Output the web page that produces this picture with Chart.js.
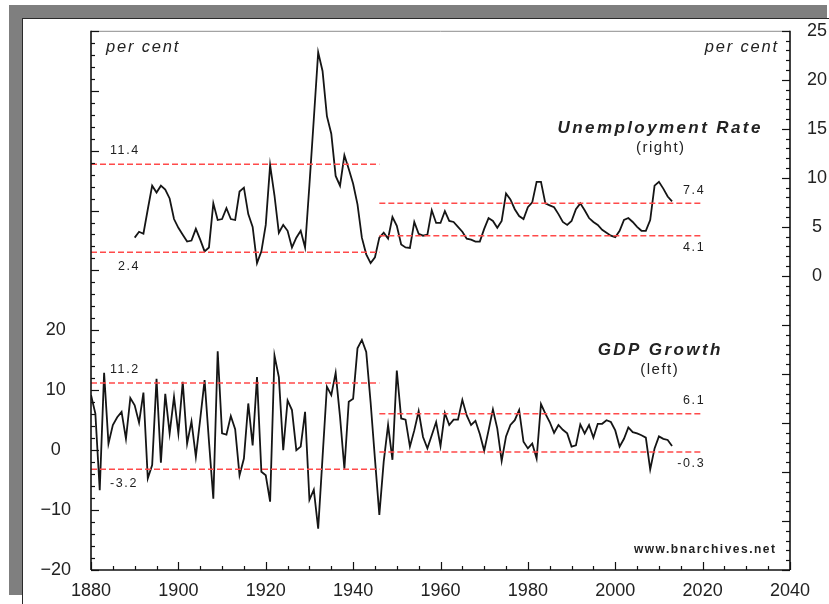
<!DOCTYPE html>
<html>
<head>
<meta charset="utf-8">
<script src="https://cdn.jsdelivr.net/npm/chart.js@4"></script>
<style>
html,body{margin:0;padding:0;background:#fff;}
#wrap{position:relative;width:829px;height:604px;overflow:hidden;background:#fff;}
#gray{position:absolute;left:9px;top:5px;width:818px;height:590px;background:#7f7f7f;}
#panel{position:absolute;left:22px;top:18px;width:807px;height:586px;background:#fff;border-left:1px solid #2a2a2a;border-top:1px solid #2a2a2a;}
#c{position:absolute;left:0;top:0;}
</style>
</head>
<body>
<div id="wrap">
  <div id="gray"></div>
  <div id="panel"></div>
  <canvas id="c" width="829" height="604"></canvas>
</div>
<script>
// ---------------- DATA ----------------
const unempStartYear = 1890;
const unempRate = [
  3.9, 4.5, 4.3, 6.8, 9.2, 8.5, 9.2, 8.8, 7.9, 5.8,        // 1890-1899
  4.9, 4.2, 3.5, 3.6, 4.8, 3.7, 2.5, 2.9, 7.4, 5.7,        // 1900-1909
  5.8, 6.9, 5.8, 5.7, 8.6, 9.0, 6.3, 5.0, 1.3, 2.5,        // 1910-1919
  5.2, 11.3, 8.2, 4.4, 5.2, 4.6, 2.9, 3.9, 4.6, 2.9,       // 1920-1929
  9.3, 16.0, 22.8, 20.9, 16.3, 14.5, 10.2, 9.2, 12.3, 10.9,// 1930-1939
  9.4, 7.3, 3.9, 2.2, 1.3, 1.9, 3.9, 4.4, 3.8, 6.0,        // 1940-1949
  5.1, 3.2, 2.9, 2.85, 5.5, 4.3, 4.1, 4.2, 6.7, 5.4,       // 1950-1959
  5.4, 6.6, 5.6, 5.5, 5.0, 4.5, 3.8, 3.7, 3.5, 3.5,        // 1960-1969
  4.8, 5.9, 5.6, 4.9, 5.6, 8.4, 7.8, 6.8, 6.1, 5.8,        // 1970-1979
  7.0, 7.5, 9.6, 9.6, 7.4, 7.2, 7.0, 6.3, 5.5, 5.2,        // 1980-1989
  5.6, 6.8, 7.4, 6.7, 5.9, 5.5, 5.2, 4.7, 4.4, 4.1,        // 1990-1999
  3.95, 4.6, 5.7, 5.9, 5.5, 5.0, 4.6, 4.6, 5.7, 9.2,       // 2000-2009
  9.6, 8.9, 8.1, 7.6                                       // 2010-2013
];

const gdpStartYear = 1880;
const gdpGrowth = [
  9.2, 6.1, -6.7, 12.9, 1.1, 4.2, 5.5, 6.4, 1.9, 8.7,      // 1880-1889
  7.5, 4.6, 9.6, -4.7, -2.5, 11.9, -2.1, 9.4, 2.8, 8.9,    // 1890-1899
  2.8, 11.4, 1.1, 4.8, -1.1, 5.2, 11.7, 1.5, -8.1, 16.5,   // 1900-1909
  2.8, 2.6, 5.7, 3.5, -4.2, -1.4, 7.8, 0.8, 12.2, -3.6,    // 1910-1919
  -4.2, -8.6, 15.8, 12.2, 0.0, 8.3, 6.7, 0.0, 0.6, 6.4,    // 1920-1929
  -8.3, -6.6, -13.1, -1.2, 10.6, 9.2, 12.9, 5.6, -3.1, 8.1,// 1930-1939
  8.6, 17.0, 18.4, 16.4, 8.0, -1.5, -10.8, -1.9, 4.2, -1.6,// 1940-1949
  13.3, 5.3, 5.1, 0.6, 3.3, 6.5, 2.2, 0.3, 2.5, 4.7,       // 1950-1959
  0.7, 6.2, 4.2, 5.1, 5.1, 8.4, 5.8, 4.2, 4.9, 2.7,        // 1960-1969
  -0.1, 3.3, 6.8, 3.6, -1.8, 2.3, 4.2, 5.0, 6.7, 1.4,      // 1970-1979
  0.3, 1.1, -1.4, 7.7, 6.1, 4.7, 2.9, 4.2, 3.4, 2.8,       // 1980-1989
  0.6, 0.8, 4.3, 2.8, 4.2, 2.1, 4.4, 4.4, 5.0, 4.7,        // 1990-1999
  3.3, 0.6, 1.9, 3.8, 3.0, 2.8, 2.5, 2.1, -3.2, 0.3,       // 2000-2009
  2.3, 1.9, 1.7, 0.7                                       // 2010-2013
];

// period averages (+/- one standard deviation bands)
const periodBreaks = [1880, 1946, 2020];
const unempBands = [[11.4, 2.4], [7.4, 4.1]];
const gdpBands = [[11.2, -3.2], [6.1, -0.3]];
const unempBandLabels = [['11.4', '2.4'], ['7.4', '4.1']];
const gdpBandLabels = [['11.2', '-3.2'], ['6.1', '-0.3']];

// axis ticks
const xTickYears = [1880, 1900, 1920, 1940, 1960, 1980, 2000, 2020, 2040];
const leftTickLabels = [-20, -10, 0, 10, 20];
const rightTickLabels = [0, 5, 10, 15, 20, 25];

// ---------------- BUILD ----------------
const FONT = "'Liberation Sans', Arial, Helvetica, sans-serif";
Chart.defaults.font.family = FONT;

const toPts = (start, arr) => arr.map((v, i) => ({x: start + i, y: v}));

const RED = '#ff4a4a';
const bandSets = [];
[[unempBands, 'yR'], [gdpBands, 'yL']].forEach(([bands, axis]) => {
  bands.forEach((pair, p) => {
    pair.forEach(level => {
      bandSets.push({
        data: [{x: periodBreaks[p], y: level}, {x: periodBreaks[p + 1], y: level}],
        yAxisID: axis, borderColor: RED, borderWidth: 1.5, borderDash: [6, 3],
        pointRadius: 0, fill: false, tension: 0
      });
    });
  });
});

function drawText(ctx, s, x, y, font, align, spacing, color) {
  ctx.font = font;
  ctx.fillStyle = color || '#222';
  ctx.textBaseline = 'middle';
  ctx.letterSpacing = (spacing || 0) + 'px';
  let w = ctx.measureText(s).width;
  ctx.textAlign = 'left';
  let sx = x;
  if (align === 'center') sx = x - (w - (spacing || 0)) / 2;
  else if (align === 'right') sx = x - (w - (spacing || 0));
  ctx.fillText(s, sx, y);
  ctx.letterSpacing = '0px';
}

const decor = {
  id: 'decor',
  afterDatasetsDraw(chart) {
    const {ctx, chartArea: a, scales} = chart;
    const xs = scales.x, yL = scales.yL, yR = scales.yR;
    ctx.save();
    const seg = (x1, y1, x2, y2) => { ctx.beginPath(); ctx.moveTo(x1, y1); ctx.lineTo(x2, y2); ctx.stroke(); };
    // top border (grey)
    ctx.strokeStyle = '#8c8c8c'; ctx.lineWidth = 1;
    seg(a.left, a.top + 0.5, a.right, a.top + 0.5);
    // axes
    ctx.strokeStyle = '#111'; ctx.lineWidth = 1.6;
    seg(a.left, a.top, a.left, a.bottom);
    seg(a.left, a.bottom, a.right, a.bottom);
    seg(a.right, a.top, a.right, a.bottom);
    // inward ticks
    ctx.lineWidth = 1.2;
    for (let v = yL.min; v <= yL.max; v += 2) {
      const y = Math.round(yL.getPixelForValue(v)) + 0.5;
      seg(a.left, y, a.left + (v % 10 === 0 ? 8 : 4), y);
    }
    for (let v = yR.min; v <= yR.max; v += 1) {
      const y = Math.round(yR.getPixelForValue(v)) + 0.5;
      seg(a.right, y, a.right - (v % 5 === 0 ? 8 : 4), y);
    }
    for (let v = xs.min; v <= xs.max; v += 5) {
      const x = Math.round(xs.getPixelForValue(v)) + 0.5;
      seg(x, a.bottom, x, a.bottom - (v % 20 === 0 ? 8 : 4));
    }
    // band value labels
    const lf = "12.5px " + FONT;
    const placeBand = (labels, bands, yScale) => {
      labels.forEach((pair, p) => {
        pair.forEach((s, k) => {
          const yv = yScale.getPixelForValue(bands[p][k]);
          const above = k === 0;
          if (p === 0) {
            const x = xs.getPixelForValue(periodBreaks[0]) + (s.length > 3 ? 19 : 27);
            drawText(ctx, s, x, yv + (above ? -14 : 14), lf, 'left', 1.6, '#1e1e1e');
          } else {
            const x = xs.getPixelForValue(periodBreaks[2]) + 1;
            drawText(ctx, s, x, yv + (above ? -13 : 12), lf, 'right', 1.6, '#1e1e1e');
          }
        });
      });
    };
    placeBand(unempBandLabels, unempBands, yR);
    placeBand(gdpBandLabels, gdpBands, yL);
    // titles
    drawText(ctx, 'per cent', a.left + 15, 47, "italic 16.5px " + FONT, 'left', 1.8, '#222');
    drawText(ctx, 'per cent', a.right - 13, 47, "italic 16.5px " + FONT, 'right', 1.8, '#222');
    drawText(ctx, 'Unemployment Rate', 659, 128, "italic bold 17px " + FONT, 'center', 2.4, '#222');
    drawText(ctx, '(right)', 660, 148, "15px " + FONT, 'center', 1.5, '#222');
    drawText(ctx, 'GDP Growth', 659, 350, "italic bold 17px " + FONT, 'center', 2.4, '#222');
    drawText(ctx, '(left)', 659, 370, "15px " + FONT, 'center', 1.5, '#222');
    drawText(ctx, 'www.bnarchives.net', a.right - 15, 550, "bold 12px " + FONT, 'right', 1.5, '#222');
    ctx.restore();
  }
};

const tickFont = {family: FONT, size: 18};
new Chart(document.getElementById('c'), {
  type: 'line',
  data: {
    datasets: [
      ...bandSets,
      {label: 'Unemployment Rate', data: toPts(unempStartYear, unempRate), yAxisID: 'yR',
       borderColor: '#151515', borderWidth: 1.8, pointRadius: 0, tension: 0, fill: false},
      {label: 'GDP Growth', data: toPts(gdpStartYear, gdpGrowth), yAxisID: 'yL',
       borderColor: '#151515', borderWidth: 1.8, pointRadius: 0, tension: 0, fill: false}
    ]
  },
  options: {
    responsive: false, animation: false, devicePixelRatio: 1,
    layout: {padding: {top: 30, left: 0, right: 0, bottom: 0}},
    plugins: {legend: {display: false}, tooltip: {enabled: false}},
    scales: {
      x: {
        type: 'linear', min: 1880, max: 2040,
        afterBuildTicks: s => { s.ticks = xTickYears.map(v => ({value: v})); },
        ticks: {callback: v => String(v), font: tickFont, color: '#222', padding: 10, maxRotation: 0, autoSkip: false},
        grid: {display: false, drawTicks: false}, border: {display: false},
        afterFit: s => { s.height = 34; }
      },
      yL: {
        position: 'left', min: -20, max: 70,
        afterBuildTicks: s => { s.ticks = leftTickLabels.map(v => ({value: v})); },
        ticks: {callback: v => v < 0 ? '\u2212' + Math.abs(v) : String(v), font: tickFont, color: '#222',
                crossAlign: 'center', padding: 20},
        grid: {display: false, drawTicks: false}, border: {display: false},
        afterFit: s => { s.width = 91; }
      },
      yR: {
        position: 'right', min: -30, max: 25,
        afterBuildTicks: s => { s.ticks = rightTickLabels.map(v => ({value: v})); },
        ticks: {callback: v => String(v), font: tickFont, color: '#222', crossAlign: 'center', padding: 17},
        grid: {display: false, drawTicks: false}, border: {display: false},
        afterFit: s => { s.width = 39; }
      }
    }
  },
  plugins: [decor]
});
</script>
</body>
</html>
